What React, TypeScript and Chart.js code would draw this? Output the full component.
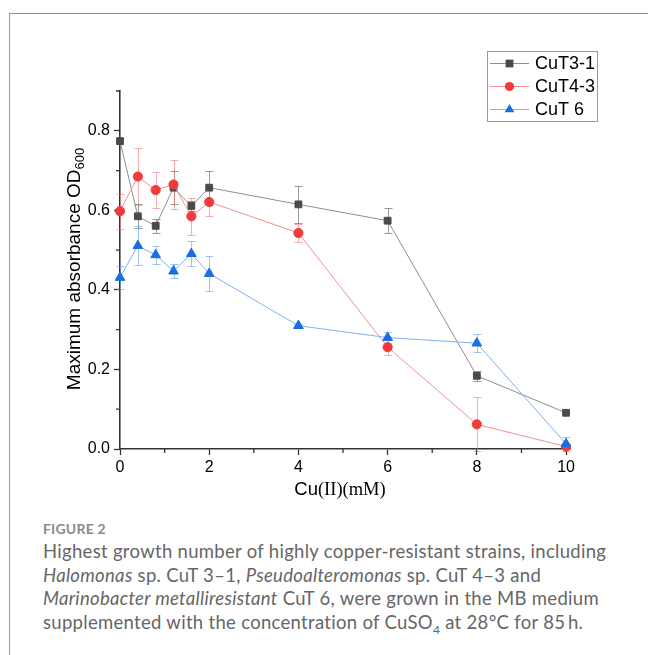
import React, { useEffect, useRef } from "react";
import { Chart, registerables } from "chart.js";

Chart.register(...registerables);

// ---- data ----
const concentrations = [0, 0.4, 0.8, 1.2, 1.6, 2, 4, 6, 8, 10];
const cut31Values = [0.774, 0.585, 0.561, 0.657, 0.611, 0.657, 0.615, 0.574, 0.184, 0.091];
const cut31Errors = [0.0, 0.03, 0.018, 0.041, 0.013, 0.043, 0.046, 0.032, 0.012, 0.0];
const cut43Values = [0.598, 0.685, 0.651, 0.665, 0.585, 0.621, 0.543, 0.256, 0.062, 0.006];
const cut43Errors = [0.044, 0.071, 0.046, 0.062, 0.047, 0.034, 0.022, 0.02, 0.068, 0.006];
const cut6Values = [0.431, 0.511, 0.488, 0.447, 0.491, 0.441, 0.31, 0.28, 0.266, 0.013];
const cut6Errors = [0.03, 0.049, 0.022, 0.017, 0.031, 0.043, 0.004, 0.013, 0.022, 0.018];

const seriesNames = ["CuT3-1", "CuT4-3", "CuT 6"];
const xTicks = [0, 2, 4, 6, 8, 10];
const xMinorTicks = [1, 3, 5, 7, 9];
const yMinorTicks = [0.1, 0.3, 0.5, 0.7, 0.9];
const xTitleSans = "Cu";
const xTitleSerif = "(II)(mM)";
const yTitleMain = "Maximum absorbance OD";
const yTitleSub = "600";

const SANS = "'Liberation Sans', Arial, sans-serif";
const SERIF = "'Liberation Serif', 'Times New Roman', serif";

const styles = [
  { line: "#8f8f8f", marker: "#4a4a4a", err: "rgba(120,120,120,0.75)", shape: "rect", r: 4.8 },
  { line: "#f49090", marker: "#f03b3b", err: "rgba(240,110,110,0.55)", shape: "circle", r: 4.6 },
  { line: "#7eb0f0", marker: "#1a6fe0", err: "rgba(80,150,235,0.55)", shape: "triangle", r: 5.6 },
];

const valueSets = [cut31Values, cut43Values, cut6Values];
const errorSets = [cut31Errors, cut43Errors, cut6Errors];

function drawMarker(ctx: CanvasRenderingContext2D, shape: string, x: number, y: number, r: number, color: string) {
  ctx.save();
  ctx.fillStyle = color;
  ctx.beginPath();
  if (shape === "rect") {
    const s = Math.SQRT1_2 * r + 0.5;
    ctx.rect(x - s, y - s, 2 * s, 2 * s);
  } else if (shape === "circle") {
    ctx.arc(x, y, r, 0, Math.PI * 2);
  } else {
    ctx.moveTo(x, y - r);
    ctx.lineTo(x + r * 0.866, y + r / 2);
    ctx.lineTo(x - r * 0.866, y + r / 2);
    ctx.closePath();
  }
  ctx.fill();
  ctx.restore();
}

const errorBarPlugin = {
  id: "errorBars",
  beforeDatasetsDraw(chart: any) {
    const ctx = chart.ctx as CanvasRenderingContext2D;
    const xs = chart.scales.x;
    const ys = chart.scales.y;
    chart.data.datasets.forEach((ds: any, i: number) => {
      const errs = errorSets[i];
      ctx.save();
      ctx.strokeStyle = styles[i].err;
      ctx.lineWidth = 1;
      ds.data.forEach((p: any, j: number) => {
        const e = errs[j];
        if (!e) return;
        const px = Math.round(xs.getPixelForValue(p.x)) + 0.5;
        const top = Math.round(ys.getPixelForValue(p.y + e)) + 0.5;
        const bot = Math.round(ys.getPixelForValue(p.y - e)) + 0.5;
        ctx.beginPath();
        ctx.moveTo(px, top);
        ctx.lineTo(px, bot);
        ctx.moveTo(px - 4, top);
        ctx.lineTo(px + 4, top);
        ctx.moveTo(px - 4, bot);
        ctx.lineTo(px + 4, bot);
        ctx.stroke();
      });
      ctx.restore();
    });
  },
};

const decorPlugin = {
  id: "decor",
  afterDraw(chart: any) {
    const ctx = chart.ctx as CanvasRenderingContext2D;
    const xs = chart.scales.x;
    const ys = chart.scales.y;
    const area = chart.chartArea;
    ctx.save();
    // minor ticks
    ctx.strokeStyle = "#333";
    ctx.lineWidth = 1.3;
    ctx.beginPath();
    xMinorTicks.forEach((v) => {
      const px = xs.getPixelForValue(v);
      ctx.moveTo(px, area.bottom);
      ctx.lineTo(px, area.bottom + 4);
    });
    yMinorTicks.forEach((v) => {
      const py = ys.getPixelForValue(v);
      ctx.moveTo(area.left, py);
      ctx.lineTo(area.left - 4, py);
    });
    ctx.stroke();

    // y title
    ctx.fillStyle = "#000";
    ctx.textBaseline = "alphabetic";
    ctx.font = `19px ${SANS}`;
    const w1 = ctx.measureText(yTitleMain).width;
    ctx.font = `13px ${SANS}`;
    const w2 = ctx.measureText(yTitleSub).width;
    ctx.save();
    ctx.translate(80, 269);
    ctx.rotate(-Math.PI / 2);
    const start = -(w1 + w2) / 2;
    ctx.font = `19px ${SANS}`;
    ctx.textAlign = "left";
    ctx.fillText(yTitleMain, start, 0);
    ctx.font = `13px ${SANS}`;
    ctx.fillText(yTitleSub, start + w1, 4);
    ctx.restore();

    // x title
    ctx.font = `18.5px ${SANS}`;
    const a = ctx.measureText(xTitleSans).width;
    ctx.font = `18.5px ${SERIF}`;
    const b = ctx.measureText(xTitleSerif).width;
    const xs0 = 340 - (a + b) / 2;
    ctx.textAlign = "left";
    ctx.font = `18.5px ${SANS}`;
    ctx.fillText(xTitleSans, xs0, 495);
    ctx.font = `18.5px ${SERIF}`;
    ctx.fillText(xTitleSerif, xs0 + a, 495);

    // legend
    ctx.strokeStyle = "#9a9a9a";
    ctx.lineWidth = 1;
    ctx.strokeRect(487.5, 51.5, 110, 70);
    const rows = [63.5, 86.5, 109.5];
    rows.forEach((ry, i) => {
      const st = styles[i];
      ctx.strokeStyle = st.line;
      ctx.lineWidth = 1;
      ctx.beginPath();
      ctx.moveTo(490, ry);
      ctx.lineTo(529, ry);
      ctx.stroke();
      drawMarker(ctx, st.shape, 509.5, ry, st.r, st.marker);
      ctx.fillStyle = "#000";
      ctx.font = `18px ${SANS}`;
      ctx.textBaseline = "middle";
      ctx.fillText(seriesNames[i], 535, ry + 1);
    });
    ctx.restore();
  },
};

export default function App() {
  const ref = useRef<HTMLCanvasElement>(null);

  useEffect(() => {
    if (!ref.current) return;
    const datasets = valueSets.map((vals, i) => ({
      label: seriesNames[i],
      data: concentrations.map((c, j) => ({ x: c, y: vals[j] })),
      borderColor: styles[i].line,
      backgroundColor: styles[i].marker,
      pointBackgroundColor: styles[i].marker,
      pointBorderColor: styles[i].marker,
      pointBorderWidth: 1,
      pointStyle: styles[i].shape,
      pointRadius: styles[i].r,
      borderWidth: 1,
      tension: 0,
      clip: false as any,
      order: 2 - i,
    }));

    const tickFont = { family: SANS, size: 16 };
    const chart = new Chart(ref.current, {
      type: "line",
      data: { datasets },
      plugins: [errorBarPlugin, decorPlugin],
      options: {
        animation: false,
        responsive: false,
        events: [],
        layout: { padding: { left: 0, top: 91, right: 77.5, bottom: 0 } },
        plugins: { legend: { display: false }, tooltip: { enabled: false }, title: { display: false } },
        scales: {
          x: {
            type: "linear",
            min: 0,
            max: 10.1,
            afterFit: (s: any) => {
              s.height = 51;
            },
            afterBuildTicks: (s: any) => {
              s.ticks = xTicks.map((v) => ({ value: v }));
            },
            ticks: {
              stepSize: 2,
              includeBounds: false,
              color: "#000",
              font: tickFont,
              padding: 3,
              maxRotation: 0,
              autoSkip: false,
              callback: (v: any) => String(v),
            },
            grid: { drawOnChartArea: false, tickLength: 6, tickColor: "#333", tickWidth: 1.3 },
            border: { color: "#333", width: 1.6 },
          },
          y: {
            type: "linear",
            min: 0,
            max: 0.9,
            afterFit: (s: any) => {
              s.width = 120;
            },
            ticks: {
              stepSize: 0.2,
              includeBounds: false,
              color: "#000",
              font: tickFont,
              padding: 4,
              autoSkip: false,
              callback: (v: any) => Number(v).toFixed(1),
            },
            grid: { drawOnChartArea: false, tickLength: 6, tickColor: "#333", tickWidth: 1.3 },
            border: { color: "#333", width: 1.6 },
          },
        },
      } as any,
    });
    return () => chart.destroy();
  }, []);

  const capStyle: React.CSSProperties = {
    position: "absolute",
    left: 43,
    top: 540,
    fontFamily: "Lato, 'Open Sans', sans-serif",
    fontSize: 18.5,
    letterSpacing: "0.3px",
    lineHeight: "23.5px",
    color: "#666",
    whiteSpace: "nowrap",
  };

  return (
    <div style={{ position: "absolute", left: 0, top: 0, width: 648, height: 655, overflow: "hidden", background: "#fff" }}>
      <div
        style={{
          position: "absolute",
          left: 9,
          top: 13,
          width: 660,
          height: 660,
          borderTop: "1px solid #8c8c8c",
          borderLeft: "1px solid #9c9c9c",
        }}
      />
      <canvas ref={ref} width={648} height={500} style={{ position: "absolute", left: 0, top: 0 }} />
      <div
        style={{
          position: "absolute",
          left: 43,
          top: 520,
          fontFamily: "Lato, 'Open Sans', sans-serif",
          fontWeight: 700,
          fontSize: 14,
          letterSpacing: "0.2px",
          lineHeight: "18px",
          color: "#8a8a8a",
          whiteSpace: "nowrap",
        }}
      >
        FIGURE 2
      </div>
      <div style={capStyle}>
        <div>Highest growth number of highly copper-resistant strains, including</div>
        <div>
          <i>Halomonas</i> sp. CuT 3–1, <i>Pseudoalteromonas</i> sp. CuT 4–3 and
        </div>
        <div>
          <i>Marinobacter metalliresistant</i> CuT 6, were grown in the MB medium
        </div>
        <div>
          supplemented with the concentration of CuSO<sub style={{ fontSize: 12, lineHeight: 0 }}>4</sub> at 28°C for 85&#8201;h.
        </div>
      </div>
    </div>
  );
}
